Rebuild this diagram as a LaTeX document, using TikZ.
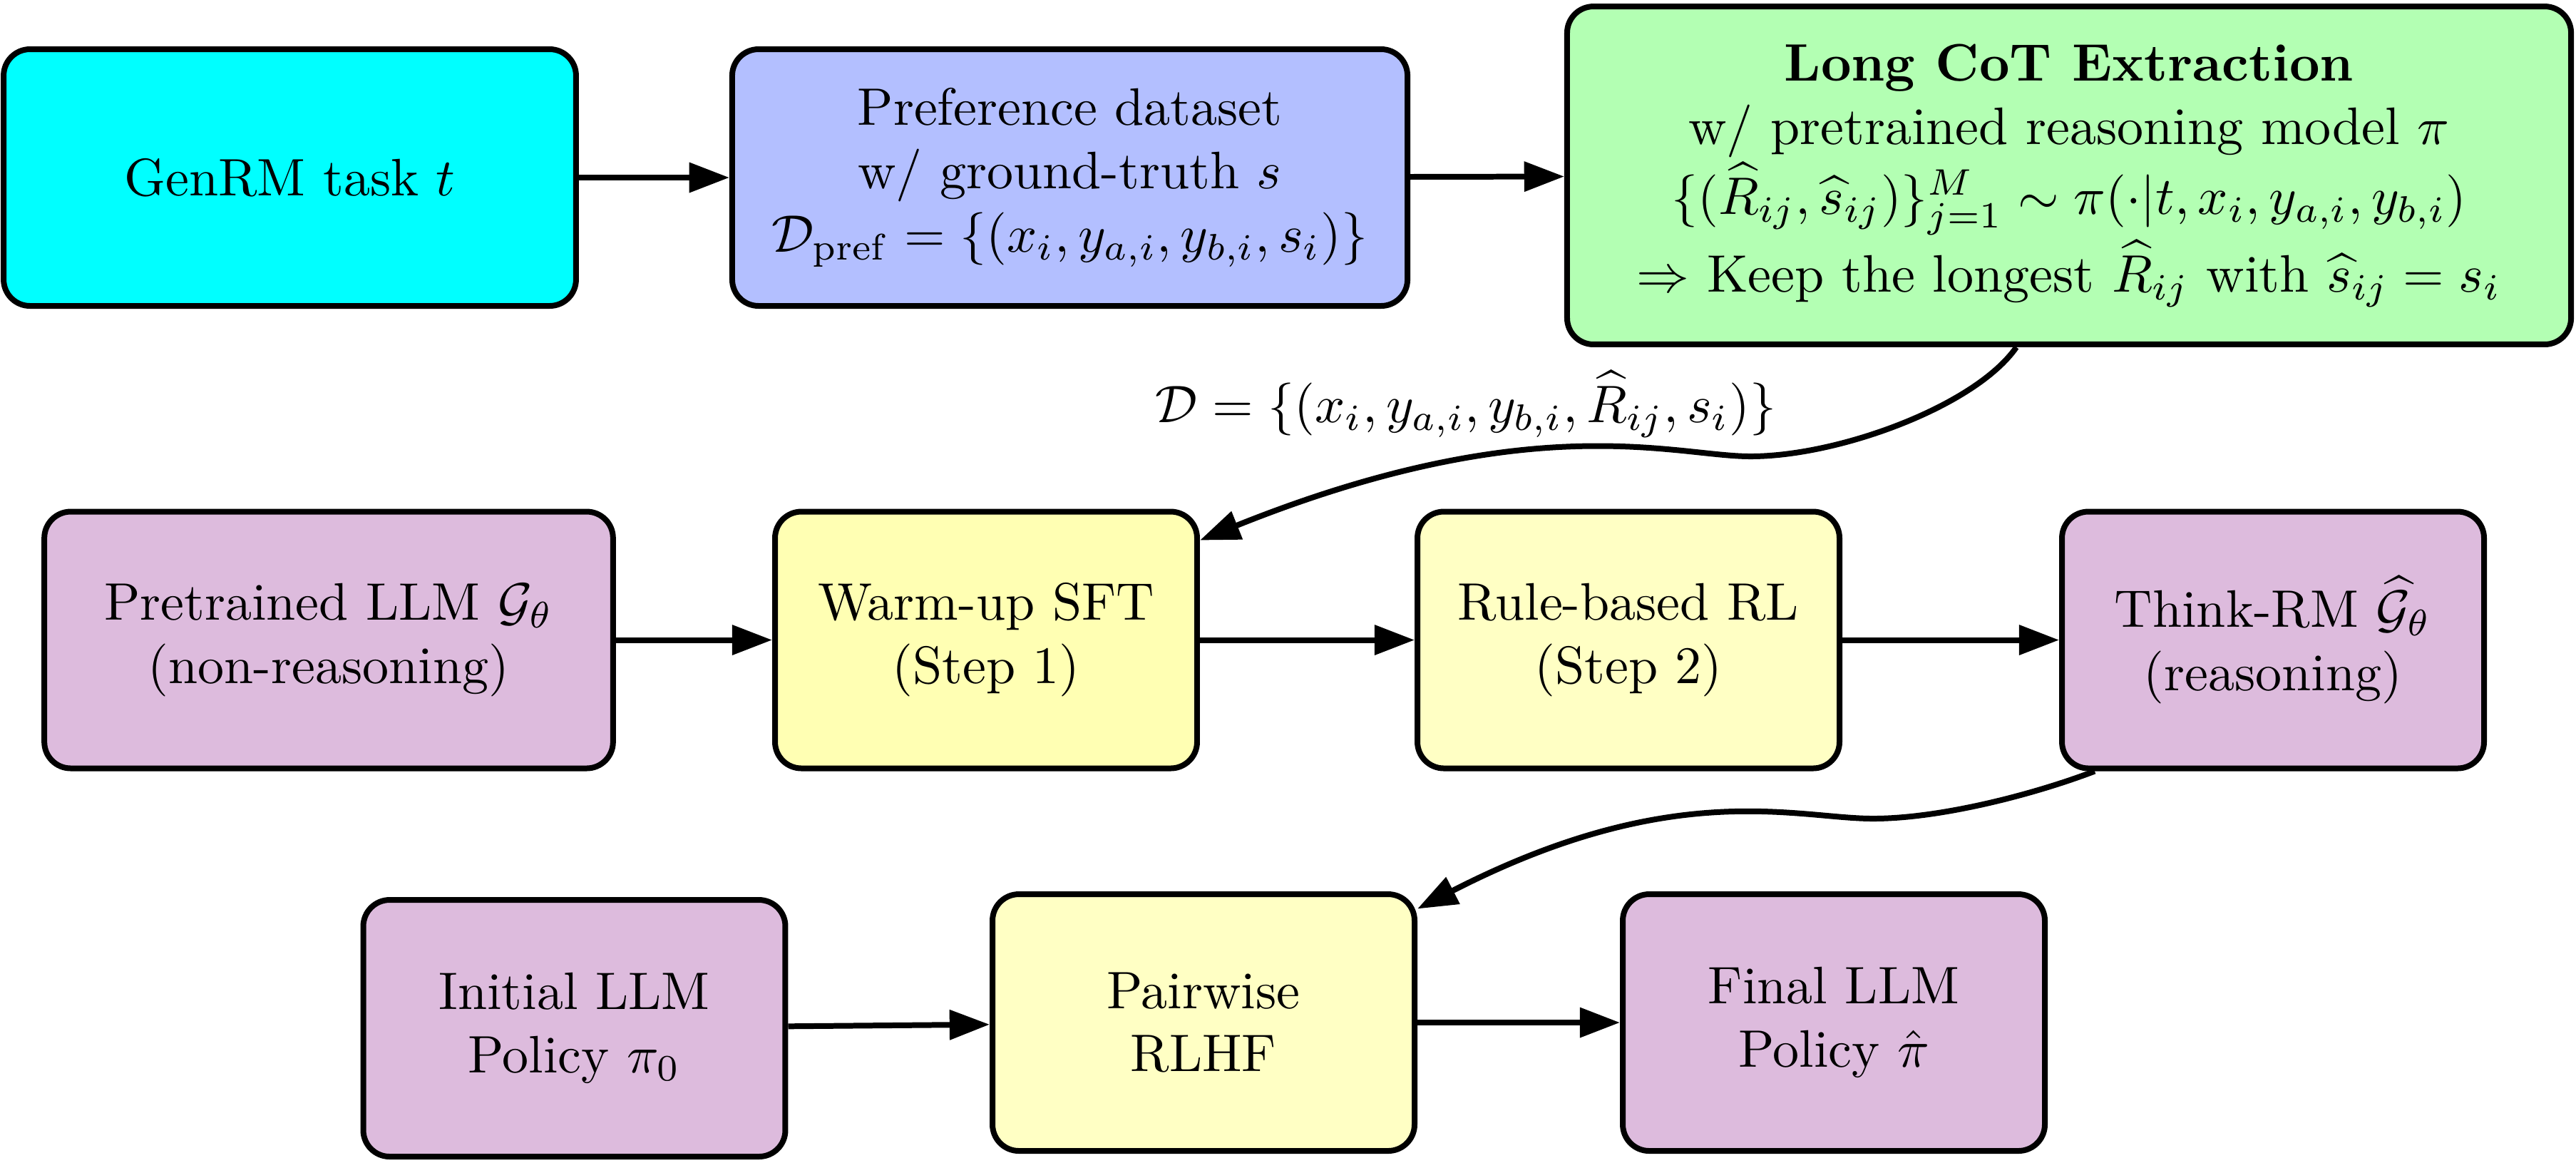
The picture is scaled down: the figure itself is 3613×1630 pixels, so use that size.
\documentclass[tikz,border=0pt]{standalone}
\usetikzlibrary{arrows.meta}
\definecolor{cyanc}{RGB}{0,255,255}
\definecolor{prefc}{RGB}{179,191,255}
\definecolor{cotc}{RGB}{179,255,179}
\definecolor{purc}{RGB}{221,187,221}
\definecolor{yelA}{RGB}{255,255,179}
\definecolor{yelB}{RGB}{255,255,196}
\tikzset{
  box/.style={draw=black, line width=1.08pt, rounded corners=5pt, align=center,
    minimum height=48.65pt, inner sep=2pt},
  smallbox/.style={box, minimum width=80pt},
  arr/.style={line width=1.08pt, -{Triangle[length=7.6pt,width=5.5pt]}},
}
\begin{document}
\begin{tikzpicture}[x=0.13514pt,y=-0.13514pt]
\useasboundingbox (0,0) rectangle (3613,1630);
% row 1
\node[box, fill=cyanc, minimum width=108.5pt] (genrm) at (406.5,249) {GenRM task $t$};
\node[box, fill=prefc, minimum width=128pt] (pref) at (1500.5,249)
  {Preference dataset\\ w/ ground-truth $s$\\ $\mathcal{D}_{\mathrm{pref}}=\{(x_i,y_{a,i},y_{b,i},s_i)\}$};
\node[box, fill=cotc, minimum width=190.3pt, minimum height=64.05pt] (cot) at (2902,246)
  {\textbf{Long CoT Extraction}\\ w/ pretrained reasoning model $\pi$\\
   $\{(\widehat{R}_{ij},\widehat{s}_{ij})\}_{j=1}^{M}\sim\pi(\cdot|t,x_i,y_{a,i},y_{b,i})$\\
   $\Rightarrow$ Keep the longest $\widehat{R}_{ij}$ with $\widehat{s}_{ij}=s_i$};
% row 2
\node[box, fill=purc, minimum width=107.8pt] (pre) at (461,897.5) {Pretrained LLM $\mathcal{G}_\theta$\\ (non-reasoning)};
\node[smallbox, fill=yelA] (warm) at (1383,897.5) {Warm-up SFT\\ (Step 1)};
\node[smallbox, fill=yelB] (rule) at (2284,897.5) {Rule-based RL\\ (Step 2)};
\node[smallbox, fill=purc] (think) at (3188,897.5) {Think-RM $\widehat{\mathcal{G}}_\theta$\\ (reasoning)};
% row 3
\node[smallbox, fill=purc] (init) at (805.5,1442) {Initial LLM\\ Policy $\pi_0$};
\node[smallbox, fill=yelB] (pair) at (1688,1434) {Pairwise\\ RLHF};
\node[smallbox, fill=purc] (final) at (2572,1434) {Final LLM\\ Policy $\hat{\pi}$};
% label
\node (lab) at (2056,567) {$\mathcal{D}=\{(x_i,y_{a,i},y_{b,i},\widehat{R}_{ij},s_i)\}$};
% straight arrows
\draw[arr] (genrm) -- (pref);
\draw[arr] (pref) -- (cot);
\draw[arr] (pre) -- (warm);
\draw[arr] (warm) -- (rule);
\draw[arr] (rule) -- (think);
\draw[arr] (init) -- (pair);
\draw[arr] (pair) -- (final);
% curved arrows
\draw[arr] ([xshift=-10pt]cot.south) .. controls (2771,569) and (2580,640) .. (2455,640)
  .. controls (2350,640) and (2150,570) .. (warm.25);
\draw[arr] ([xshift=-33.8pt]think.south) .. controls (2850,1115) and (2720,1148) .. (2627,1148)
  .. controls (2520,1148) and (2347,1090) .. (pair.28);
\end{tikzpicture}
\end{document}
